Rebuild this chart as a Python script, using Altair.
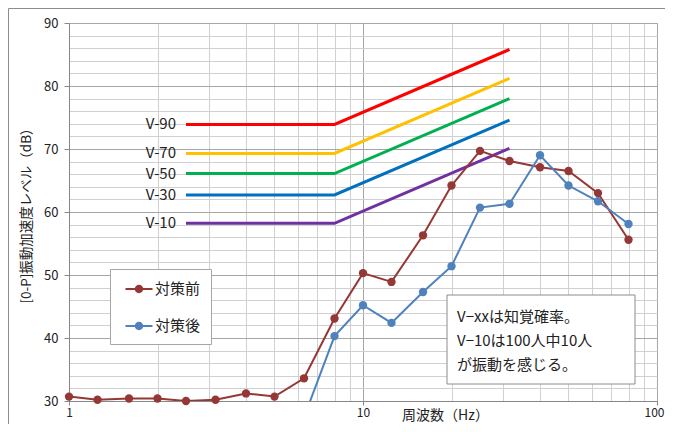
import altair as alt
import pandas as pd

FONT = "Noto Sans CJK JP"

freqs = [1, 1.25, 1.6, 2, 2.5, 3.15, 4, 5, 6.3, 8, 10, 12.5, 16, 20, 25, 31.5, 40, 50, 63, 80]
before = [30.7, 30.2, 30.4, 30.4, 30.0, 30.2, 31.2, 30.7, 33.6, 43.1, 50.3, 48.9, 56.3,
          64.2, 69.7, 68.1, 67.1, 66.5, 63.0, 55.6]
after_freqs = [6.3, 8, 10, 12.5, 16, 20, 25, 31.5, 40, 50, 63, 80]
after = [27.4, 40.3, 45.2, 42.4, 47.3, 51.4, 60.7, 61.3, 69.0, 64.2, 61.7, 58.1]

series_names = ["対策前", "対策後"]
series_colors = ["#953735", "#4F81BD"]

v_names = ["V-90", "V-70", "V-50", "V-30", "V-10"]
v_flat = [73.9, 69.3, 66.1, 62.7, 58.2]
v_end = [85.8, 81.2, 78.0, 74.6, 70.1]
v_freqs = [2.5, 8, 31.5]
v_colors = ["#FF0000", "#FFC000", "#00B050", "#0070C0", "#7030A0"]

note_lines = ["V−xxは知覚確率。", "V−10は100人中10人", "が振動を感じる。"]

x_grid = [1, 2, 3, 4, 5, 6, 7, 8, 9, 10, 20, 30, 40, 50, 60, 70, 80, 90, 100]
y_grid = list(range(30, 91, 2))

# ---- tables ----
meas = pd.DataFrame(
    [{"f": f, "v": v, "series": series_names[0]} for f, v in zip(freqs, before)]
    + [{"f": f, "v": v, "series": series_names[1]} for f, v in zip(after_freqs, after)]
)
vrows = []
for n, a, b in zip(v_names, v_flat, v_end):
    vrows += [{"name": n, "f": v_freqs[0], "v": a, "o": 0},
              {"name": n, "f": v_freqs[1], "v": a, "o": 1},
              {"name": n, "f": v_freqs[2], "v": b, "o": 2}]
vdf = pd.DataFrame(vrows)
vlab = pd.DataFrame({"name": v_names, "f": [v_freqs[0]] * len(v_names), "v": v_flat})
note = pd.DataFrame({"t": ["\n".join(note_lines)]})

W, H = 588, 378
major_x = "(datum.value==1||datum.value==10||datum.value==100)"
major_y = "(datum.value % 10 == 0)"

xs = alt.Scale(type="log", domain=[1, 100], nice=False)
ys = alt.Scale(domain=[30, 90], nice=False, zero=False)

x_axis = alt.Axis(
    values=x_grid, labelExpr=f"{major_x} ? ''+datum.value : ''",
    title="周波数（Hz）", titleX=376, titleY=14, titleAlign="center", titleBaseline="middle",
    titleFont=FONT, titleFontSize=14, titleFontWeight="normal", titleColor="#222",
    labelFont=FONT, labelFontSize=12, labelColor="#222", labelPadding=2,
    labelOverlap=False, labelFlush=False,
    labelAlign={"condition": {"test": "datum.value==100", "value": "right"}, "value": "center"},
    labelOffset={"condition": {"test": "datum.value==100", "value": 7}, "value": 0},
    tickSize=4, tickColor="#888",
    tickOpacity={"condition": {"test": major_x, "value": 1}, "value": 0},
    gridColor={"condition": {"test": major_x, "value": "#a6a6a6"}, "value": "#d0d0d0"},
    domainColor="#888",
)
y_axis = alt.Axis(
    values=y_grid, labelExpr=f"{major_y} ? ''+datum.value : ''",
    title="[0-P]振動加速度レベル（dB）", titleX=-43, titleY=H / 2, titleAlign="center",
    titleBaseline="middle", titleAngle=270,
    titleFont=FONT, titleFontSize=13.5, titleFontWeight="normal", titleColor="#222",
    labelFont=FONT, labelFontSize=13, labelColor="#222", labelPadding=6,
    labelOverlap=False,
    tickSize=5, tickColor="#888",
    tickOpacity={"condition": {"test": major_y, "value": 1}, "value": 0},
    gridColor={"condition": {"test": major_y, "value": "#a6a6a6"}, "value": "#d0d0d0"},
    domainColor="#888",
)

X = alt.X("f:Q", scale=xs, axis=x_axis)
Y = alt.Y("v:Q", scale=ys, axis=y_axis)

border = alt.Chart(note).mark_rect(fill=None, stroke="#8c8c8c", strokeWidth=1, clip=False).encode(
    x=alt.value(-60.5), y=alt.value(-14.5), x2=alt.value(W + 100), y2=alt.value(H + 100))

vlines = alt.Chart(vdf).mark_line(strokeWidth=3).encode(
    x=X, y=Y, order="o:Q",
    stroke=alt.Stroke("name:N", scale=alt.Scale(domain=v_names, range=v_colors), legend=None))

vtext = alt.Chart(vlab).mark_text(align="right", baseline="middle", dx=-10, font=FONT,
                                  fontSize=15, color="#222").encode(
    x=alt.X("f:Q", scale=xs), y=alt.Y("v:Q", scale=ys), text="name:N")

legend_symbol = ("M-1.35,-0.1H1.35V0.1H-1.35Z "
                 "M0.42,0A0.42,0.42,0,1,1,-0.42,0A0.42,0.42,0,1,1,0.42,0Z")
leg = alt.Legend(orient="none", legendX=41, legendY=246, title=None,
                 fillColor="white", strokeColor="#a6a6a6", padding=10,
                 symbolType=legend_symbol, symbolSize=400, symbolOffset=9,
                 rowPadding=19, labelOffset=6, labelFont=FONT, labelFontSize=15,
                 labelColor="#222", symbolStrokeWidth=0, labelLimit=200)
cscale = alt.Scale(domain=series_names, range=series_colors)

mline = alt.Chart(meas).mark_line(strokeWidth=2, clip=True).encode(
    x=alt.X("f:Q", scale=xs), y=alt.Y("v:Q", scale=ys),
    color=alt.Color("series:N", scale=cscale, legend=leg),
    detail="series:N")

mpts = alt.Chart(meas).transform_filter("datum.v >= 30").mark_point(
    filled=True, size=70, opacity=1).encode(
    x=alt.X("f:Q", scale=xs), y=alt.Y("v:Q", scale=ys),
    color=alt.Color("series:N", scale=cscale, legend=leg))

nbox = alt.Chart(note).mark_rect(fill="white", stroke="#8c8c8c", strokeWidth=1).encode(
    x=alt.value(378), x2=alt.value(566), y=alt.value(272), y2=alt.value(361))
ntext = alt.Chart(note).mark_text(align="left", baseline="middle", lineBreak="\n",
                                  lineHeight=24, font=FONT, fontSize=15, color="#222").encode(
    x=alt.value(388), y=alt.value(294), text="t:N")

chart = alt.layer(vlines, vtext, mline, mpts, nbox, ntext, border).encode(x=X, y=Y).properties(
    width=W, height=H,
    padding={"left": 61, "top": 15, "right": 8, "bottom": 23},
    autosize=alt.AutoSizeParams(type="none"),
).configure_view(stroke=None).configure(background="white")

chart.save("out.html", embed_options={"renderer": "svg", "actions": False})
